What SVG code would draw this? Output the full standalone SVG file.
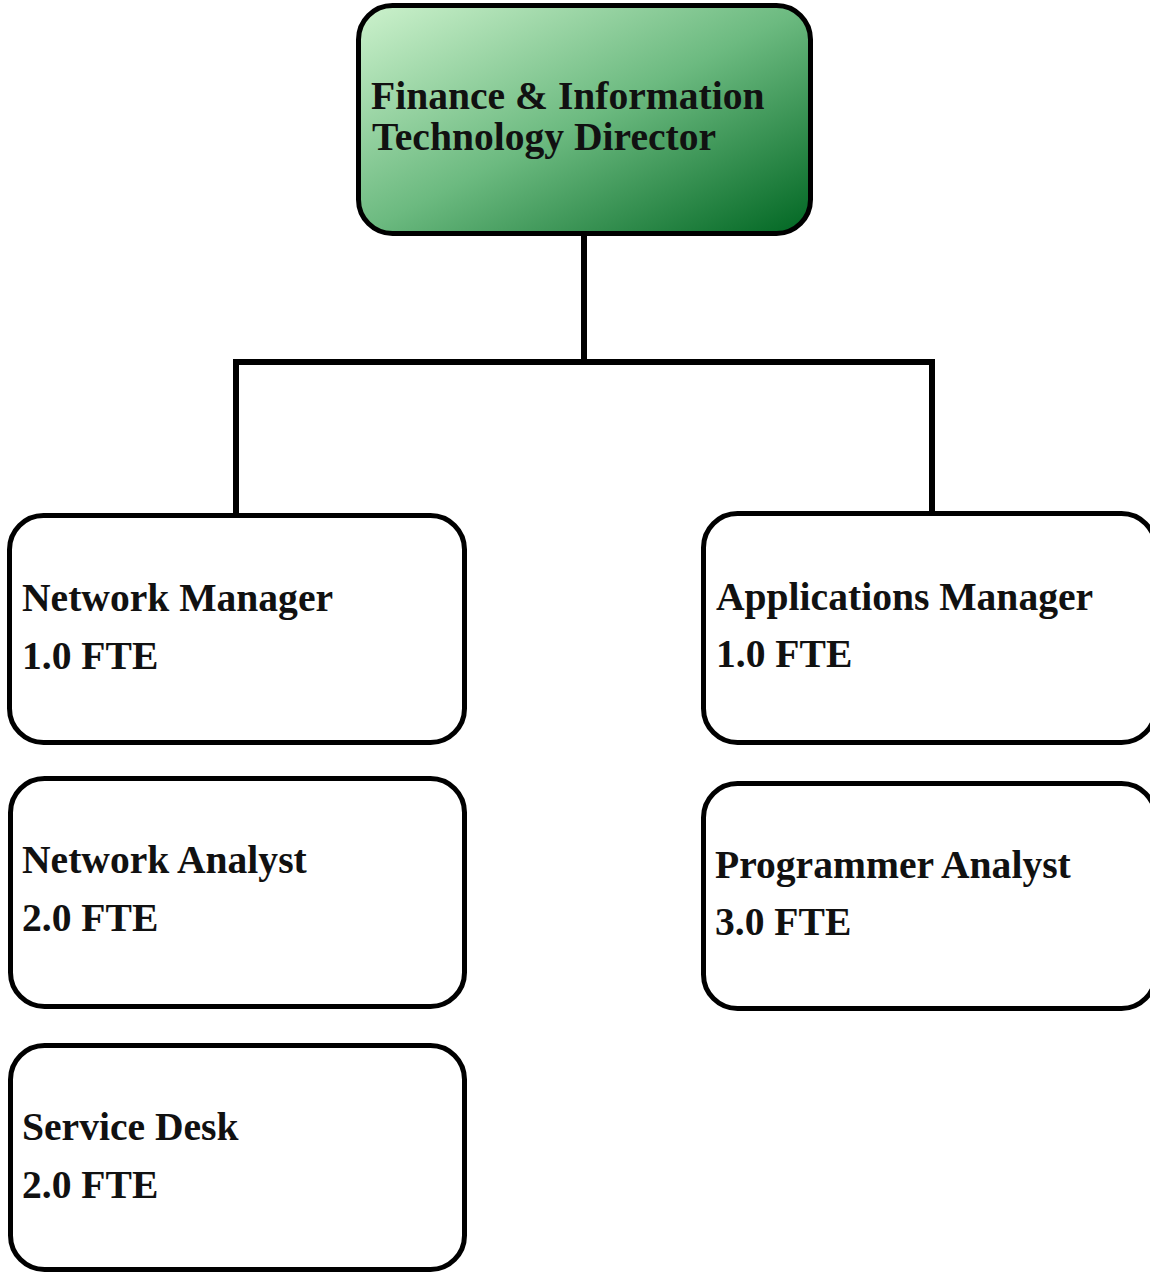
<svg xmlns="http://www.w3.org/2000/svg" width="1150" height="1272" viewBox="0 0 1150 1272">
<style>
.box{fill:#ffffff;stroke:#000000;stroke-width:5}
.lbl{font-family:"Liberation Serif","Times New Roman",serif;font-weight:bold;font-size:39.6px;fill:#111111}
.conn{fill:none;stroke:#000000;stroke-width:6}
</style>
<defs>
<linearGradient id="g" x1="0" y1="0" x2="1" y2="1">
<stop offset="0" stop-color="#cdf2cd"/>
<stop offset="0.5" stop-color="#6cba80"/>
<stop offset="1" stop-color="#006622"/>
</linearGradient>
</defs>
<rect width="1150" height="1272" fill="#ffffff"/>
<g id="connectors">
<path class="conn" d="M584 234 V362 M236 362 H932 M236 359 V516 M932 359 V514"/>
</g>
<g id="director">
<rect x="358.5" y="5.5" width="452" height="228" rx="34" style="fill:url(#g);stroke:#000;stroke-width:5"/>
<text class="lbl" x="371" y="109">Finance &amp; Information</text>
<text class="lbl" x="372" y="150">Technology Director</text>
</g>
<g id="network-manager">
<rect class="box" x="9.5" y="515.5" width="455" height="227" rx="34"/>
<text class="lbl" x="22" y="611">Network Manager</text>
<text class="lbl" x="22" y="669">1.0 FTE</text>
</g>
<g id="network-analyst">
<rect class="box" x="10.5" y="778.5" width="454" height="228" rx="34"/>
<text class="lbl" x="22" y="873">Network Analyst</text>
<text class="lbl" x="22" y="931">2.0 FTE</text>
</g>
<g id="service-desk">
<rect class="box" x="10.5" y="1045.5" width="454" height="224" rx="34"/>
<text class="lbl" x="22" y="1140">Service Desk</text>
<text class="lbl" x="22" y="1198">2.0 FTE</text>
</g>
<g id="applications-manager">
<rect class="box" x="703.5" y="513.5" width="452" height="229" rx="34"/>
<text class="lbl" x="716" y="610">Applications Manager</text>
<text class="lbl" x="716" y="667">1.0 FTE</text>
</g>
<g id="programmer-analyst">
<rect class="box" x="703.5" y="783.5" width="452" height="225" rx="34"/>
<text class="lbl" x="715" y="878">Programmer Analyst</text>
<text class="lbl" x="715" y="935">3.0 FTE</text>
</g>
</svg>
